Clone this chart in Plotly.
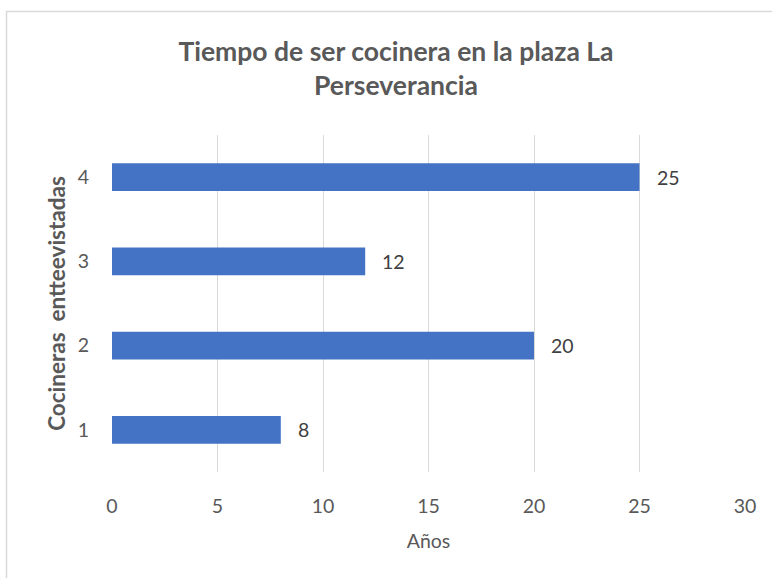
import plotly.graph_objects as go

categories = [1, 2, 3, 4]
years = [8, 20, 12, 25]
x_ticks = [0, 5, 10, 15, 20, 25, 30]

title_text = "Tiempo de ser cocinera en la plaza La<br>Perseverancia"
x_title = "Años"
y_title = "Cocineras  entteevistadas"

FONT = "Lato, Open Sans, sans-serif"
GRAY = "#595959"
TS = 19.5

fig = go.Figure()
fig.add_trace(go.Bar(
    x=years, y=categories, orientation="h",
    marker=dict(color="#4472C4", line=dict(width=0)),
    width=0.33,
))

for v, c in zip(years, categories):
    fig.add_annotation(x=v, y=c, text=str(v), showarrow=False,
                       xanchor="left", xshift=15,
                       font=dict(family=FONT, size=TS, color="#404040"))

L, R, T, B = 112, 27, 135, 106
W, H = 772, 578
pw, ph = W - L - R, H - T - B
fig.add_shape(type="rect", xref="paper", yref="paper",
              x0=(6.5 - L) / pw, x1=(W + 5 - L) / pw,
              y0=(H - B - (H + 5)) / ph, y1=(H - B - 11.5) / ph,
              line=dict(color="#d9d9d9", width=1.5), layer="below")

fig.update_layout(
    width=W, height=H,
    margin=dict(l=L, r=R, t=T, b=B, autoexpand=False),
    paper_bgcolor="white", plot_bgcolor="white",
    showlegend=False,
    font=dict(family=FONT, color=GRAY),
    title=dict(text=title_text, x=396 / W, xanchor="center", xref="container",
               y=1 - 61 / H, yanchor="top", yref="container",
               font=dict(family=FONT, size=26.5, color=GRAY, weight="bold")),
    xaxis=dict(range=[0, 30], tickvals=x_ticks, showgrid=True,
               gridcolor="#d9d9d9", gridwidth=1.3, zeroline=False,
               showline=False, ticks="", ticklabelstandoff=20, automargin=False,
               tickfont=dict(family=FONT, size=TS, color=GRAY),
               title=dict(text=x_title, standoff=18,
                          font=dict(family=FONT, size=TS, color=GRAY))),
    yaxis=dict(range=[0.5, 4.5], tickvals=categories, showgrid=False,
               zeroline=False, showline=False, ticks="", ticklabelstandoff=22,
               automargin=False,
               tickfont=dict(family=FONT, size=TS, color=GRAY),
               title=dict(text=y_title, standoff=5,
                          font=dict(family=FONT, size=22.5, color=GRAY, weight="bold"))),
)
fig.write_html("out.html", config={"displayModeBar": False},
               post_script="document.body.style.margin='0';document.body.style.overflow='hidden';")
